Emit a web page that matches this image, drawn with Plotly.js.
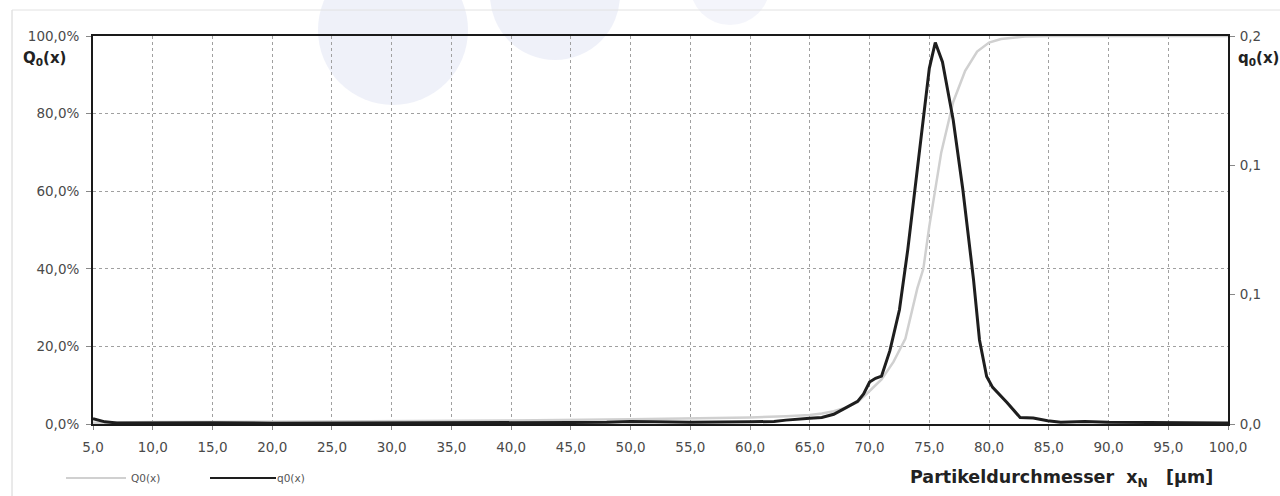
<!DOCTYPE html>
<html>
<head>
<meta charset="utf-8">
<script src="https://cdn.plot.ly/plotly-3.0.1.min.js"></script>
<style>html,body{margin:0;padding:0;background:#fff;}#chart{width:1280px;height:496px;}</style>
</head>
<body>
<div id="chart"></div>
<script>
// Cumulative distribution Q0(x) in percent
const Qx = [5, 10, 20, 30, 40, 50, 55, 60, 63, 65, 66, 67, 68, 69, 70, 71, 72, 73, 74, 74.5, 75, 76, 77, 78, 79, 80, 81, 82, 83, 85, 90, 95, 100];
const QY = [0.3, 0.5, 0.6, 0.7, 0.9, 1.2, 1.4, 1.7, 2.0, 2.3, 2.7, 3.3, 4.2, 5.6, 8.5, 11.5, 16, 22, 35, 40, 51, 70, 83, 91, 96, 98.3, 99.2, 99.6, 99.9, 100, 100, 100, 100];
// Density distribution q0(x)
const qx = [5, 6, 7, 8, 10, 12, 15, 20, 25, 30, 35, 40, 45, 48, 50, 52, 55, 60, 62, 63, 64, 65, 66, 67, 68, 69, 69.5, 70, 70.5, 71, 71.7, 72.5, 73.2, 74.2, 75.0, 75.5, 76.1, 77.0, 77.8, 78.7, 79.2, 79.8, 80.3, 81.5, 82.6, 83.7, 84.9, 86, 88, 90, 95, 100];
const qy = [0.0025, 0.001, 0.0005, 0.0005, 0.0006, 0.0008, 0.0006, 0.0004, 0.0004, 0.0004, 0.0004, 0.0005, 0.0007, 0.0008, 0.0012, 0.001, 0.0008, 0.001, 0.0012, 0.0018, 0.0024, 0.0027, 0.003, 0.0045, 0.0075, 0.0105, 0.014, 0.0195, 0.0212, 0.0222, 0.034, 0.053, 0.081, 0.127, 0.165, 0.177, 0.168, 0.141, 0.109, 0.067, 0.039, 0.022, 0.017, 0.010, 0.003, 0.0028, 0.0015, 0.0008, 0.0012, 0.0008, 0.0006, 0.0005];
// Tick values and labels
const xTicks = [5,10,15,20,25,30,35,40,45,50,55,60,65,70,75,80,85,90,95,100];
const yLeftTicks = [0, 20, 40, 60, 80, 100];
const yLeftLabels = ["0,0%", "20,0%", "40,0%", "60,0%", "80,0%", "100,0%"];
const yRightTicks = [0, 0.06, 0.12, 0.18];
const yRightLabels = ["0,0", "0,1", "0,1", "0,2"];
const seriesNames = ["Q0(x)", "q0(x)"];

const FONT = "DejaVu Sans, Liberation Sans, Arial, sans-serif";
const TICKFONT = {family: FONT, size: 13.5, color: "#4a4a4a"};
const traces = [
  {x: Qx, y: QY, type: "scatter", mode: "lines", name: seriesNames[0],
   line: {color: "#d0d0d0", width: 2.5}, showlegend: false, yaxis: "y"},
  {x: qx, y: qy, type: "scatter", mode: "lines", name: seriesNames[1],
   line: {color: "#1e1e1e", width: 3}, showlegend: false, yaxis: "y2"}
];

const L = 93, R = 1228, T = 36, B = 424;
const px = v => (v - L) / (R - L);
const py = v => (B - v) / (B - T);

const layout = {
  width: 1280, height: 496,
  margin: {l: L, r: 1280 - R, t: T, b: 496 - B},
  paper_bgcolor: "#ffffff", plot_bgcolor: "rgba(0,0,0,0)",
  separators: ",.",
  font: {family: FONT, size: 12, color: "#444"},
  xaxis: {
    range: [5, 100], tickvals: xTicks, tickformat: ".1f",
    showgrid: true, gridcolor: "#a0a0a0", griddash: "dot", gridwidth: 1,
    showline: true, linecolor: "#1a1a1a", linewidth: 2, mirror: true,
    ticks: "outside", ticklen: 4, tickcolor: "#888", ticklabelstandoff: 6,
    zeroline: false, layer: "below traces", tickfont: TICKFONT
  },
  yaxis: {
    range: [0, 100], tickvals: yLeftTicks, ticktext: yLeftLabels,
    showgrid: true, gridcolor: "#a0a0a0", griddash: "dot", gridwidth: 1,
    showline: true, linecolor: "#1a1a1a", linewidth: 2, mirror: true,
    ticks: "outside", ticklen: 5, tickcolor: "#888", ticklabelstandoff: 4,
    zeroline: false, layer: "below traces", tickfont: TICKFONT
  },
  yaxis2: {
    range: [0, 0.18], tickvals: yRightTicks, ticktext: yRightLabels,
    overlaying: "y", side: "right", showgrid: false, zeroline: false,
    showline: true, linecolor: "#1a1a1a", linewidth: 2,
    ticks: "outside", ticklen: 5, tickcolor: "#888", ticklabelstandoff: 2,
    tickfont: TICKFONT
  },
  shapes: [
    // faint watermark circles of the scanned page
    {type: "circle", xref: "paper", yref: "paper", layer: "below",
     x0: px(318), x1: px(468), y0: py(105), y1: py(-45),
     fillcolor: "rgba(210,216,238,0.35)", line: {width: 0}},
    {type: "circle", xref: "paper", yref: "paper", layer: "below",
     x0: px(490), x1: px(620), y0: py(60), y1: py(-70),
     fillcolor: "rgba(210,216,238,0.35)", line: {width: 0}},
    {type: "circle", xref: "paper", yref: "paper", layer: "below",
     x0: px(690), x1: px(770), y0: py(25), y1: py(-55),
     fillcolor: "rgba(210,216,238,0.25)", line: {width: 0}},
    // faint outer frame of the scanned chart
    {type: "line", xref: "paper", yref: "paper", layer: "below",
     x0: px(12), x1: px(12), y0: py(10), y1: py(496), line: {color: "#d4d4d4", width: 1}},
    {type: "line", xref: "paper", yref: "paper", layer: "below",
     x0: px(12), x1: px(1280), y0: py(10), y1: py(10), line: {color: "#e2e2e2", width: 1}},
    // legend line samples
    {type: "line", xref: "paper", yref: "paper",
     x0: px(66), x1: px(126), y0: py(478), y1: py(478), line: {color: "#d0d0d0", width: 2}},
    {type: "line", xref: "paper", yref: "paper",
     x0: px(210), x1: px(276), y0: py(478), y1: py(478), line: {color: "#1e1e1e", width: 2}}
  ],
  annotations: [
    {xref: "paper", yref: "paper", x: px(21), y: py(58), xanchor: "left", yanchor: "middle",
     text: "<b>Q<sub>0</sub>(x)</b>", showarrow: false, font: {family: FONT, size: 15, color: "#222"}},
    {xref: "paper", yref: "paper", x: px(1236), y: py(58), xanchor: "left", yanchor: "middle",
     text: "<b>q<sub>0</sub>(x)</b>", showarrow: false, font: {family: FONT, size: 15, color: "#222"}},
    {xref: "paper", yref: "paper", x: px(1215), y: py(478), xanchor: "right", yanchor: "middle",
     text: "<b>Partikeldurchmesser  x<sub>N</sub>   [µm]</b>", showarrow: false,
     font: {family: FONT, size: 17.5, color: "#222"}},
    {xref: "paper", yref: "paper", x: px(129), y: py(478), xanchor: "left", yanchor: "middle",
     text: seriesNames[0], showarrow: false, font: {family: FONT, size: 10.5, color: "#555"}},
    {xref: "paper", yref: "paper", x: px(275), y: py(478), xanchor: "left", yanchor: "middle",
     text: seriesNames[1], showarrow: false, font: {family: FONT, size: 10.5, color: "#555"}}
  ]
};

Plotly.newPlot("chart", traces, layout, {staticPlot: true, displayModeBar: false});
</script>
</body>
</html>
